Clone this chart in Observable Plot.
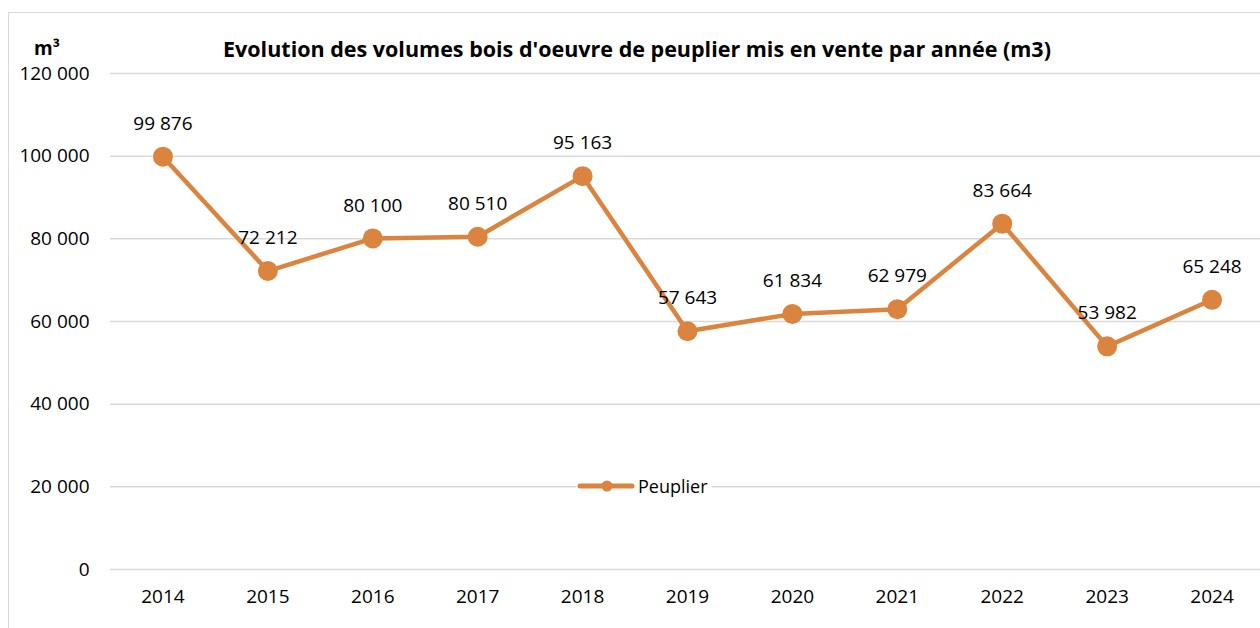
<!DOCTYPE html>
<html>
<head>
<meta charset="utf-8">
<script src="https://cdn.jsdelivr.net/npm/d3@7"></script>
<script src="https://cdn.jsdelivr.net/npm/@observablehq/plot@0.6"></script>
<style>
  html, body { margin: 0; padding: 0; background: #fff; overflow: hidden; }
  #wrap { position: relative; width: 1260px; height: 628px; overflow: hidden; font-family: "Open Sans", sans-serif; }
  #border { position: absolute; left: 8px; top: 12px; width: 1400px; height: 800px; border: 1.5px solid #d9d9d9; box-sizing: border-box; }
  #title { position: absolute; left: 0; width: 1274px; top: 34px; text-align: center; font-weight: bold; font-size: 21.5px; color: #000; white-space: nowrap; }
  #unit { position: absolute; left: 34px; top: 35px; font-weight: bold; font-size: 19px; color: #000; }
  #chart { position: absolute; left: 0; top: 0; }
  #chart svg text { font-size: 19px; fill: #000; }
  #legend { position: absolute; left: 576px; top: 474px; background: #fff; display: flex; align-items: center; font-size: 18px; color: #000; padding-right: 4px; }
  #legend svg { display: block; }
</style>
</head>
<body>
<div id="wrap">
  <div id="border"></div>
  <div id="chart"></div>
  <div id="unit">m³</div>
  <div id="title">Evolution des volumes bois d'oeuvre de peuplier mis en vente par année (m3)</div>
  <div id="legend">
    <svg width="62" height="24"><line x1="4" y1="12" x2="56" y2="12" stroke="#DB843F" stroke-width="5" stroke-linecap="round"/><circle cx="31" cy="12" r="5.5" fill="#DB843F"/></svg>
    <span>Peuplier</span>
  </div>
</div>
<script>
const years = [2014, 2015, 2016, 2017, 2018, 2019, 2020, 2021, 2022, 2023, 2024];
const volumes = [99876, 72212, 80100, 80510, 95163, 57643, 61834, 62979, 83664, 53982, 65248];
const yTicks = [0, 20000, 40000, 60000, 80000, 100000, 120000];
const seriesName = "Peuplier";

const data = years.map((y, i) => ({year: y, value: volumes[i], series: seriesName}));
const fmt = v => d3.format(",")(v).replace(/,/g, " ");
const color = "#DB843F";

const chart = Plot.plot({
  width: 1260,
  height: 628,
  marginTop: 73,
  marginBottom: 59,
  marginLeft: 110,
  marginRight: 0,
  style: {fontFamily: "'Open Sans', sans-serif", fontSize: "19px", color: "#000", background: "transparent", overflow: "visible"},
  x: {type: "linear", domain: [years[0] - 0.5, years[years.length - 1] + 0.5], range: [110, 1264], label: null},
  y: {domain: [0, 120000], label: null},
  marks: [
    Plot.gridY(yTicks, {stroke: "#d9d9d9", strokeOpacity: 1, strokeWidth: 1.5}),
    Plot.axisY(yTicks, {tickSize: 0, tickPadding: 21, tickFormat: fmt}),
    Plot.axisX(years, {tickSize: 0, tickPadding: 20, tickFormat: d => String(d)}),
    Plot.line(data, {x: "year", y: "value", stroke: color, strokeWidth: 4.5, strokeLinejoin: "round"}),
    Plot.dot(data, {x: "year", y: "value", r: 10, fill: color}),
    Plot.text(data, {x: "year", y: "value", text: d => fmt(d.value), dy: -33, fontSize: 19})
  ]
});
document.getElementById("chart").appendChild(chart);
</script>
</body>
</html>
